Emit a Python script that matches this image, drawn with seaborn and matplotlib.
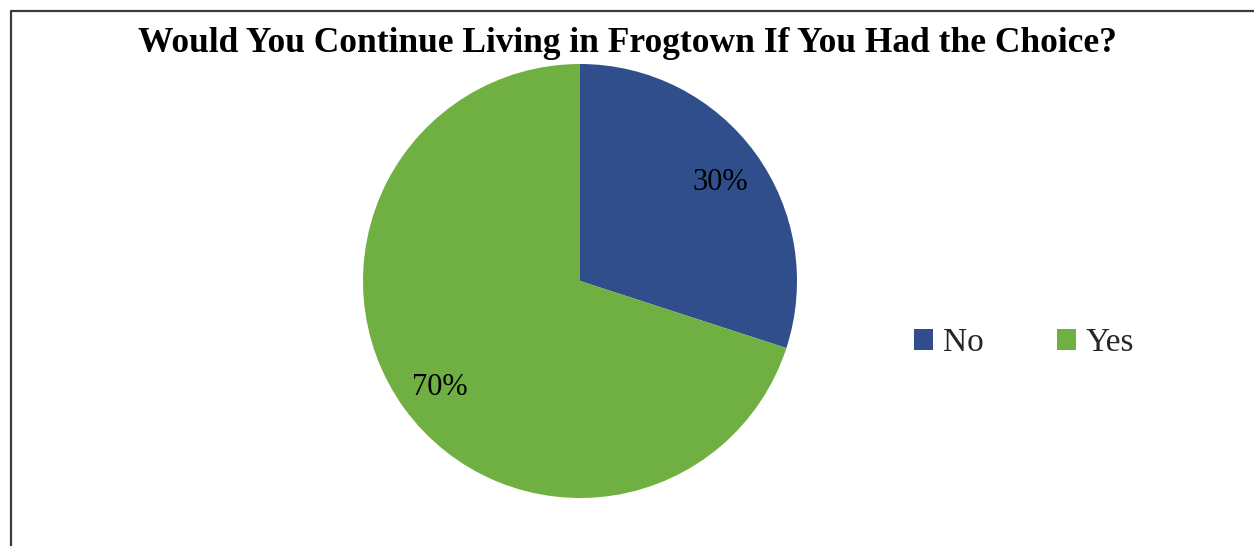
import matplotlib
matplotlib.use("Agg")
import matplotlib.pyplot as plt
from matplotlib.lines import Line2D
from matplotlib.patches import Patch
from matplotlib.transforms import offset_copy
import seaborn as sns

categories = ["No", "Yes"]
shares = [30, 70]
colors = ["#2F4E8B", "#70B043"]
title = "Would You Continue Living in Frogtown If You Had the Choice?"

sns.set_theme(style="white")
plt.rcParams["font.family"] = ["Liberation Serif", "DejaVu Serif"]

W, H = 1254, 546
fig = plt.figure(figsize=(W / 100, H / 100), dpi=100)
fig.patch.set_facecolor("white")

# pie area: centre (580, 281) px from top-left, radius 217 px
cx, cy, r = 580, 281, 217
ax = fig.add_axes([(cx - r) / W, (H - cy - r) / H, 2 * r / W, 2 * r / H])
wedges, texts, autotexts = ax.pie(
    shares,
    colors=colors,
    startangle=90,
    counterclock=False,
    autopct=lambda p: f"{p:.0f}%",
    pctdistance=0.8,
    radius=1,
    wedgeprops=dict(linewidth=0),
    textprops=dict(fontsize=22, color="black"),
)
# nudge percentage labels slightly downward
for t in autotexts:
    t.set_transform(offset_copy(ax.transData, fig=fig, x=0, y=-4, units="dots"))
ax.set_xlim(-1, 1)
ax.set_ylim(-1, 1)
ax.set_aspect("equal")
ax.axis("off")

fig.text(0.5, 1 - 52 / H, title, ha="center", va="baseline",
         fontsize=25.5, fontweight="bold", color="black")

handles = [Patch(facecolor=c, edgecolor="none") for c in colors]
fig.legend(handles, categories, loc="center left",
           bbox_to_anchor=(914 / W, 1 - 343 / H),
           ncol=2, frameon=False, fontsize=24, handlelength=0.57,
           handleheight=0.57, handletextpad=0.3, columnspacing=2.2,
           borderpad=0, borderaxespad=0)

# frame lines along the left and top edges
x0 = 10.5 / W
y0 = 1 - 10.5 / H
fig.add_artist(Line2D([x0, x0, 1.0], [0.0, y0, y0], transform=fig.transFigure,
                      color="#3a3a3a", linewidth=1.6))

fig.savefig("out.png", dpi=100)
